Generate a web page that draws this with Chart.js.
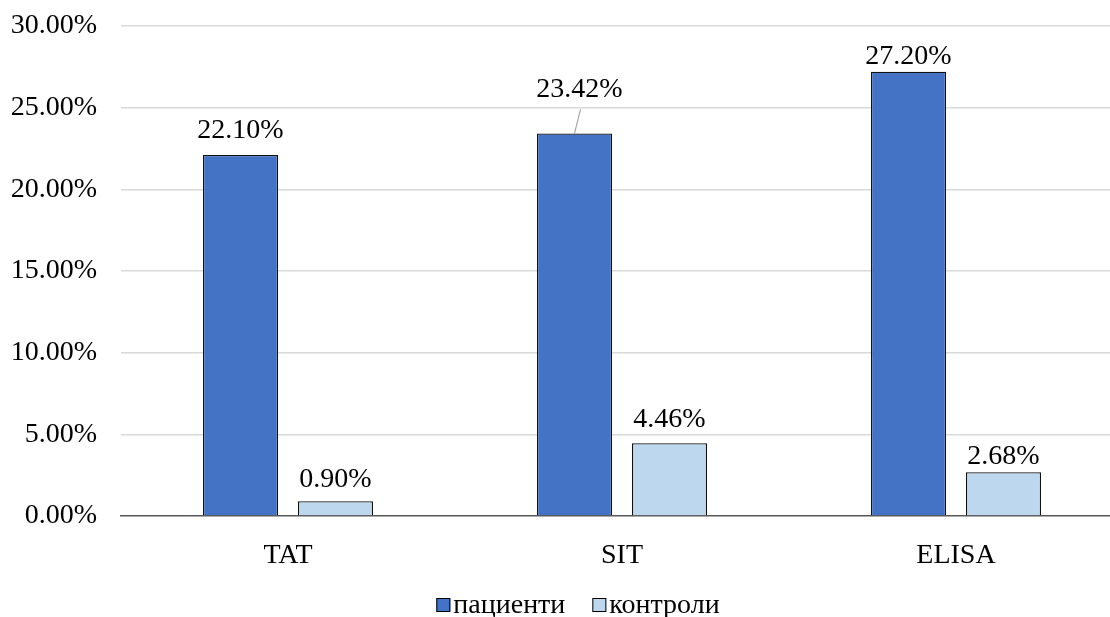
<!DOCTYPE html>
<html>
<head>
<meta charset="utf-8">
<script src="https://cdn.jsdelivr.net/npm/chart.js@4/dist/chart.umd.min.js"></script>
<style>
  html, body { margin: 0; padding: 0; background: #fff; overflow: hidden; }
  #wrap { position: relative; width: 1124px; height: 617px; }
</style>
</head>
<body>
<div id="wrap"><canvas id="c"></canvas></div>
<script>
// Categories, series and axis ticks
const categories = ['TAT', 'SIT', 'ELISA'];
const seriesNames = ['пациенти', 'контроли'];
const patients = [22.10, 23.42, 27.20];
const controls = [0.90, 4.46, 2.68];
const yTicks = [0, 5, 10, 15, 20, 25, 30];

const FONT = '"Liberation Serif", "Times New Roman", serif';
const FS = 28;

// Vertical distance from bar top to value label centre, per dataset/point
const labelLift = [[24, 44, 15], [22, 24, 16]];
const labelShiftX = [[0, 5, 0], [0, 0, 0]];

const valueLabels = {
  id: 'valueLabels',
  afterDatasetsDraw(chart) {
    const ctx = chart.ctx;
    ctx.save();
    ctx.font = FS + 'px ' + FONT;
    ctx.fillStyle = '#000';
    ctx.textAlign = 'center';
    ctx.textBaseline = 'middle';
    chart.data.datasets.forEach((ds, i) => {
      const meta = chart.getDatasetMeta(i);
      meta.data.forEach((bar, j) => {
        const lift = labelLift[i][j];
        const lx = bar.x + labelShiftX[i][j];
        const ly = bar.y - lift;
        ctx.fillText(ds.data[j].toFixed(2) + '%', lx, ly);
        if (lift > 30) {
          // leader line from a displaced label back to its bar
          ctx.strokeStyle = '#a6a6a6';
          ctx.lineWidth = 1.2;
          ctx.beginPath();
          ctx.moveTo(lx + 1, ly + 20);
          ctx.lineTo(bar.x, bar.y);
          ctx.stroke();
        }
      });
    });
    ctx.restore();
  }
};

const bottomLegend = {
  id: 'bottomLegend',
  afterDraw(chart) {
    const ctx = chart.ctx;
    ctx.save();
    ctx.font = FS + 'px ' + FONT;
    ctx.textBaseline = 'middle';
    ctx.textAlign = 'left';
    const box = 14, gapText = 3, gapItem = 27, cy = 605;
    const items = chart.data.datasets.map(ds => ({
      text: ds.label, color: ds.backgroundColor,
      w: box + gapText + ctx.measureText(ds.label).width
    }));
    const total = items.reduce((s, it) => s + it.w, 0) + gapItem * (items.length - 1);
    let x = 578 - total / 2;
    items.forEach(it => {
      ctx.fillStyle = it.color;
      ctx.fillRect(x, cy - box / 2, box, box);
      ctx.strokeStyle = '#000';
      ctx.lineWidth = 1;
      ctx.strokeRect(x + 0.5, cy - box / 2 + 0.5, box - 1, box - 1);
      ctx.fillStyle = '#000';
      ctx.fillText(it.text, x + box + gapText, cy + 1);
      x += it.w + gapItem;
    });
    ctx.restore();
  }
};

new Chart(document.getElementById('c'), {
  type: 'bar',
  data: {
    labels: categories,
    datasets: [
      { label: seriesNames[0], data: patients, backgroundColor: '#4472C4', borderColor: '#111', borderWidth: 1.3 },
      { label: seriesNames[1], data: controls, backgroundColor: '#BDD7EE', borderColor: '#111', borderWidth: 1.3 }
    ]
  },
  options: {
    responsive: true,
    maintainAspectRatio: false,
    animation: false,
    datasets: { bar: { categoryPercentage: 0.569, barPercentage: 0.79 } },
    layout: { padding: { top: 26, right: 1, bottom: 51, left: 0 } },
    plugins: { legend: { display: false }, tooltip: { enabled: false } },
    scales: {
      x: {
        grid: { display: false },
        border: { display: true, color: '#595959', width: 1.5 },
        ticks: { color: '#000', font: { family: FONT, size: FS }, padding: 15, maxRotation: 0 },
        afterFit(s) { s.height = 50; s.paddingLeft = 0; s.paddingRight = 0; }
      },
      y: {
        min: 0, max: 30,
        afterBuildTicks(s) { s.ticks = yTicks.map(v => ({ value: v })); },
        grid: {
          drawTicks: false,
          color: c => c.tick && c.tick.value === 0 ? 'rgba(0,0,0,0)' : '#d9d9d9',
          lineWidth: 1.5
        },
        border: { display: false },
        ticks: {
          color: '#000', font: { family: FONT, size: FS }, padding: 24,
          callback: v => v.toFixed(2) + '%'
        },
        afterFit(s) { s.width = 121; s.paddingTop = 0; s.paddingBottom = 0; }
      }
    }
  },
  plugins: [valueLabels, bottomLegend]
});
</script>
</body>
</html>
